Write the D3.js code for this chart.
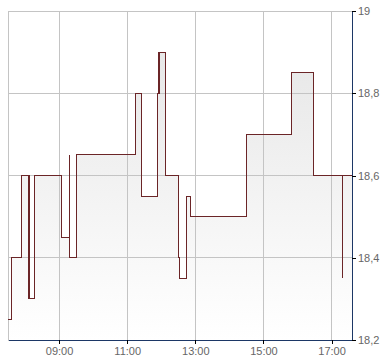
<!DOCTYPE html>
<html>
<head>
<meta charset="utf-8">
<script src="https://cdn.jsdelivr.net/npm/d3@7"></script>
<style>
  body { margin: 0; background: #fff; }
  svg { display: block; }
  .tick text { font-family: "Liberation Sans", Arial, sans-serif; font-size: 11px; fill: #666; }
</style>
</head>
<body>
<svg></svg>
<script>
// intraday quotes (step chart)
var times = ["07:30", "07:36", "07:54", "08:07", "08:17", "09:04", "09:18", "09:18", "09:31",
             "11:14", "11:25", "11:53", "11:56", "12:08", "12:30", "12:32", "12:44", "12:52",
             "14:30", "15:49", "16:28", "17:19", "17:19", "17:36"];
var prices = [18.25, 18.4, 18.6, 18.3, 18.6, 18.45, 18.65, 18.4, 18.65,
              18.8, 18.55, 18.8, 18.9, 18.6, 18.4, 18.35, 18.55, 18.5,
              18.7, 18.85, 18.6, 18.35, 18.6, 18.6];
var xTickLabels = ["09:00", "11:00", "13:00", "15:00", "17:00"];
var yTickValues = [18.2, 18.4, 18.6, 18.8, 19];
var timeDomain = ["07:30", "17:36"];
var priceDomain = [18.2, 19];

var createChart = function() {
  var width = 390, height = 364;
  var margin = {top: 11, right: 38, bottom: 24, left: 8};

  var parse = d3.timeParse("%H:%M");
  var data = times.map(function(t, i) { return {t: parse(t), v: prices[i]}; });

  var svg = d3.select("svg").attr("width", width).attr("height", height);

  var x = d3.scaleTime()
      .domain(timeDomain.map(parse))
      .range([margin.left, width - margin.right]);
  var y = d3.scaleLinear()
      .domain(priceDomain)
      .range([height - margin.bottom, margin.top]);

  var defs = svg.append("defs");
  var grad = defs.append("linearGradient")
      .attr("id", "fillGrad")
      .attr("gradientUnits", "userSpaceOnUse")
      .attr("x1", 0).attr("y1", margin.top)
      .attr("x2", 0).attr("y2", height - margin.bottom);
  grad.append("stop").attr("offset", "0%").attr("stop-color", "#e4e4e4");
  grad.append("stop").attr("offset", "100%").attr("stop-color", "#ffffff");

  var area = d3.area()
      .curve(d3.curveStepAfter)
      .x(function(d) { return x(d.t); })
      .y0(y(priceDomain[0]))
      .y1(function(d) { return y(d.v); });

  var line = d3.line()
      .curve(d3.curveStepAfter)
      .x(function(d) { return x(d.t); })
      .y(function(d) { return y(d.v); });

  svg.append("path")
      .datum(data)
      .attr("d", area)
      .attr("fill", "url(#fillGrad)");

  // grid
  var grid = svg.append("g")
      .attr("stroke", "#c4c4c4")
      .attr("stroke-width", 1)
      .attr("shape-rendering", "crispEdges");
  grid.selectAll(".hgrid")
      .data(yTickValues)
      .enter().append("line")
      .attr("x1", margin.left).attr("x2", width - margin.right)
      .attr("y1", function(d) { return y(d); })
      .attr("y2", function(d) { return y(d); });
  grid.selectAll(".vgrid")
      .data(xTickLabels.map(parse))
      .enter().append("line")
      .attr("y1", margin.top).attr("y2", height - margin.bottom)
      .attr("x1", function(d) { return x(d); })
      .attr("x2", function(d) { return x(d); });
  grid.append("line")
      .attr("y1", margin.top).attr("y2", height - margin.bottom)
      .attr("x1", margin.left).attr("x2", margin.left);

  svg.append("path")
      .datum(data)
      .attr("d", line)
      .attr("fill", "none")
      .attr("stroke", "#6b2527")
      .attr("stroke-width", 1.1)
      .attr("shape-rendering", "crispEdges");

  var comma = d3.formatLocale({decimal: ",", thousands: ".", grouping: [3], currency: ["", ""]});

  var xAxis = svg.append("g")
      .attr("transform", "translate(0," + (height - margin.bottom) + ")")
      .call(d3.axisBottom(x)
        .tickValues(xTickLabels.map(parse))
        .tickFormat(d3.timeFormat("%H:%M"))
        .tickSize(4)
        .tickSizeOuter(0)
        .tickPadding(3));

  var yAxis = svg.append("g")
      .attr("transform", "translate(" + (width - margin.right) + ",0)")
      .call(d3.axisRight(y)
        .tickValues(yTickValues)
        .tickFormat(comma.format(".1~f"))
        .tickSize(4)
        .tickSizeOuter(0)
        .tickPadding(2));

  svg.selectAll(".domain, .tick line")
      .attr("stroke", "#1c3766")
      .attr("shape-rendering", "crispEdges");
  xAxis.selectAll(".tick line").attr("stroke", "#000");
  yAxis.selectAll(".tick line").attr("stroke", "#000");
}

createChart();
</script>
</body>
</html>
